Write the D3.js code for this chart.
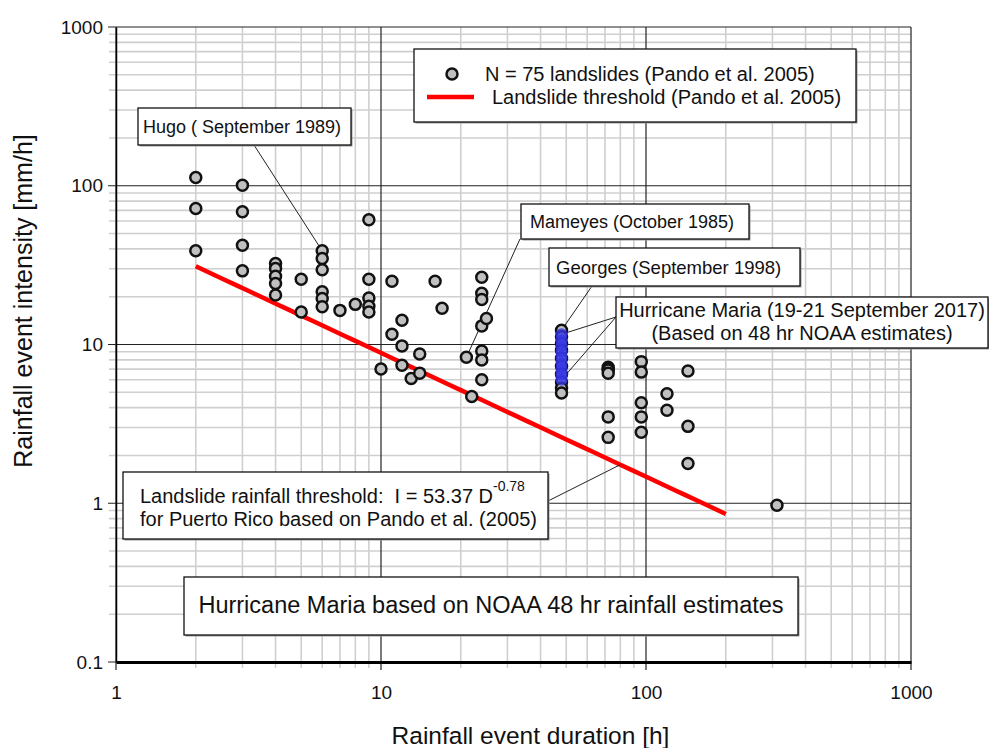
<!DOCTYPE html>
<html>
<head>
<meta charset="utf-8">
<script src="https://cdn.jsdelivr.net/npm/d3@7"></script>
<style>
  body { margin: 0; background: #fff; }
  svg text { font-family: "Liberation Sans", Arial, sans-serif; fill: #111; white-space: pre; }
</style>
</head>
<body>
<svg id="chart" width="989" height="748"></svg>
<script>
// landslide events (Pando et al. 2005): duration [h], intensity [mm/h]
const landslideDuration = [
  2, 2, 2,
  3, 3, 3, 3,
  4, 4, 4, 4, 4,
  5, 5,
  6, 6, 6, 6, 6, 6,
  7, 8,
  9, 9, 9, 9, 9,
  10, 11, 11, 12, 12, 12, 13, 14, 14, 16, 17, 21, 22,
  24, 24, 24, 24, 24, 24, 24, 25,
  48, 48, 48, 48, 48, 48, 48, 48, 48, 48,
  72, 72, 72, 72, 72, 72,
  96, 96, 96, 96, 96,
  120, 120,
  144, 144, 144,
  312
]
const landslideIntensity = [
  112.8, 71.9, 38.9,
  100.8, 68.5, 42.2, 29.1,
  32.4, 30.1, 26.9, 24.2, 20.5,
  25.8, 16.0,
  38.9, 34.8, 29.6, 21.5, 19.5, 17.3,
  16.4, 17.9,
  61, 25.8, 19.6, 17.4, 16.0,
  7.0, 25, 11.6, 14.2, 9.8, 7.4, 6.1, 8.7, 6.6, 25, 16.9, 8.3, 4.7,
  26.5, 21, 19.2, 13.1, 9.1, 8.0, 6.0, 14.6,
  12.3, 11.2, 10.2, 9.2, 8.2, 7.3, 6.5, 5.8, 5.3, 4.95,
  7.2, 7.0, 6.9, 6.6, 3.5, 2.6,
  7.8, 6.7, 4.3, 3.5, 2.8,
  4.9, 3.85,
  6.8, 3.05, 1.78,
  0.97
]

// Hurricane Maria, 48 hr NOAA estimates
const mariaDuration = 48
const mariaIntensity = [11.6, 10.6, 9.8, 9.0, 8.3, 7.6, 7.0, 6.5, 6.0]

// threshold I = 53.37 D^-0.78
const thresholdCoef = 53.37
const thresholdExp = -0.78
const thresholdRange = [2, 200]

const xTickValues = [1, 10, 100, 1000]
const yTickValues = [0.1, 1, 10, 100, 1000]

const width = 989, height = 748
const margin = { top: 27, right: 78, bottom: 86, left: 116 }
const innerW = width - margin.left - margin.right
const innerH = height - margin.top - margin.bottom

const svg = d3.select('#chart')
const root = svg.append('g').attr('transform', `translate(${margin.left},${margin.top})`)

const x = d3.scaleLog().domain([1, 1000]).range([0, innerW])
const y = d3.scaleLog().domain([0.1, 1000]).range([innerH, 0])

const isMajor = v => Math.abs(Math.log10(v) - Math.round(Math.log10(v))) < 1e-9

// grid, minor first then decades
const xGrid = x.ticks()
const yGrid = y.ticks()

root.append('g').selectAll('line')
  .data(xGrid.filter(v => !isMajor(v)))
  .join('line')
  .attr('x1', d => x(d)).attr('x2', d => x(d))
  .attr('y1', 0).attr('y2', innerH + 6)
  .attr('stroke', '#cfcfcf').attr('stroke-width', 1.6)

root.append('g').selectAll('line')
  .data(yGrid.filter(v => !isMajor(v)))
  .join('line')
  .attr('x1', -7).attr('x2', innerW)
  .attr('y1', d => y(d)).attr('y2', d => y(d))
  .attr('stroke', '#cfcfcf').attr('stroke-width', 1.6)

root.append('g').selectAll('line')
  .data(xGrid.filter(isMajor))
  .join('line')
  .attr('x1', d => x(d)).attr('x2', d => x(d))
  .attr('y1', 0).attr('y2', innerH + 8)
  .attr('stroke', '#222').attr('stroke-width', 1.2)

root.append('g').selectAll('line')
  .data(yGrid.filter(isMajor))
  .join('line')
  .attr('x1', -8).attr('x2', innerW)
  .attr('y1', d => y(d)).attr('y2', d => y(d))
  .attr('stroke', '#222').attr('stroke-width', 1.2)

// axes
const xAxis = root.append('g')
  .attr('transform', `translate(0,${innerH})`)
  .call(d3.axisBottom(x).tickValues(xTickValues).tickFormat(d3.format('~g')).tickSize(0).tickPadding(24))
xAxis.select('.domain').attr('stroke', '#000').attr('stroke-width', 3)
xAxis.selectAll('text').attr('font-size', '19px').attr('fill', '#111')

const yAxis = root.append('g')
  .call(d3.axisLeft(y).tickValues(yTickValues).tickFormat(d3.format('~g')).tickSize(0).tickPadding(13))
yAxis.select('.domain').attr('stroke', '#000').attr('stroke-width', 1.5)
yAxis.selectAll('text').attr('font-size', '19px').attr('fill', '#111')

root.append('text')
  .attr('x', innerW / 2 + 17)
  .attr('y', innerH + 82)
  .attr('text-anchor', 'middle')
  .attr('font-size', '24.5px')
  .text('Rainfall event duration [h]')

root.append('text')
  .attr('transform', 'rotate(-90)')
  .attr('x', -274)
  .attr('y', -84)
  .attr('text-anchor', 'middle')
  .attr('font-size', '25px')
  .text('Rainfall event intensity [mm/h]')

// threshold line
const thresholdData = d3.range(Math.log10(thresholdRange[0]), Math.log10(thresholdRange[1]) + 1e-9, 0.05)
  .map(l => Math.pow(10, l))
const line = d3.line()
  .x(d => x(d))
  .y(d => y(thresholdCoef * Math.pow(d, thresholdExp)))
root.append('path')
  .datum(thresholdData)
  .attr('fill', 'none')
  .attr('stroke', '#ff0000')
  .attr('stroke-width', 4.5)
  .attr('d', line)

// leader lines (box edge in px, target in data space)
const leaders = [
  { from: [254 - margin.left, 145 - margin.top], to: [6, 38.9] },
  { from: [520 - margin.left, 239 - margin.top], to: [21, 8.3] },
  { from: [592 - margin.left, 286 - margin.top], to: [48, 12.3] },
  { from: [616 - margin.left, 317 - margin.top], to: [48, 11.6] },
  { from: [616 - margin.left, 317 - margin.top], to: [48, 6.0] },
  { from: [548 - margin.left, 501 - margin.top], to: [80, thresholdCoef * Math.pow(80, thresholdExp)] }
]
root.append('g').selectAll('line')
  .data(leaders)
  .join('line')
  .attr('x1', d => d.from[0]).attr('y1', d => d.from[1])
  .attr('x2', d => x(d.to[0])).attr('y2', d => y(d.to[1]))
  .attr('stroke', '#222').attr('stroke-width', 1)

// points
const points = landslideDuration.map((d, i) => ({ d, v: landslideIntensity[i] }))
root.append('g').selectAll('circle')
  .data(points)
  .join('circle')
  .attr('cx', p => x(p.d))
  .attr('cy', p => y(p.v))
  .attr('r', 5.5)
  .attr('fill', '#c0c0c0')
  .attr('stroke', '#111')
  .attr('stroke-width', 2.5)

root.append('g').selectAll('circle')
  .data(mariaIntensity)
  .join('circle')
  .attr('cx', x(mariaDuration))
  .attr('cy', v => y(v))
  .attr('r', 6)
  .attr('fill', '#3535e6')
  .attr('fill-opacity', 0.8)

// text boxes
function box(x0, y0, x1, y1) {
  svg.append('rect')
    .attr('x', x0 + 1.5).attr('y', y0 + 1.5)
    .attr('width', x1 - x0).attr('height', y1 - y0)
    .attr('fill', '#9a9a9a')
  svg.append('rect')
    .attr('x', x0).attr('y', y0)
    .attr('width', x1 - x0).attr('height', y1 - y0)
    .attr('fill', '#fff').attr('stroke', '#111').attr('stroke-width', 1.3)
}
function label(tx, ty, str, size, anchor) {
  return svg.append('text')
    .attr('x', tx).attr('y', ty)
    .attr('font-size', size + 'px')
    .attr('text-anchor', anchor || 'start')
    .text(str)
}

// legend
box(414, 49, 856, 122)
svg.append('circle').attr('cx', 452).attr('cy', 74).attr('r', 5.5)
  .attr('fill', '#c0c0c0').attr('stroke', '#111').attr('stroke-width', 2.5)
svg.append('line').attr('x1', 427).attr('x2', 474).attr('y1', 97).attr('y2', 97)
  .attr('stroke', '#ff0000').attr('stroke-width', 4.5)
label(485, 81, 'N = 75 landslides (Pando et al. 2005)', 20)
label(492, 104, 'Landslide threshold (Pando et al. 2005)', 20)

box(138, 108, 351, 145)
label(143, 133, 'Hugo ( September 1989)', 18)

box(521, 204, 749, 239)
label(530, 228, 'Mameyes (October 1985)', 18)

box(549, 248, 800, 286)
label(556, 274, 'Georges (September 1998)', 18.5)

box(616, 297, 988, 348)
label(802, 317, 'Hurricane Maria (19-21 September 2017)', 20, 'middle')
label(802, 340, '(Based on 48 hr NOAA estimates)', 20, 'middle')

box(123, 472, 548, 539)
const t1 = label(140, 503, 'Landslide rainfall threshold:  I = 53.37 D', 20)
t1.append('tspan').attr('dy', -12).attr('font-size', '14px').text('-0.78')
label(140, 526, 'for Puerto Rico based on Pando et al. (2005)', 20)

box(184, 577, 798, 635)
label(491, 613, 'Hurricane Maria based on NOAA 48 hr rainfall estimates', 23.5, 'middle')
</script>
</body>
</html>
